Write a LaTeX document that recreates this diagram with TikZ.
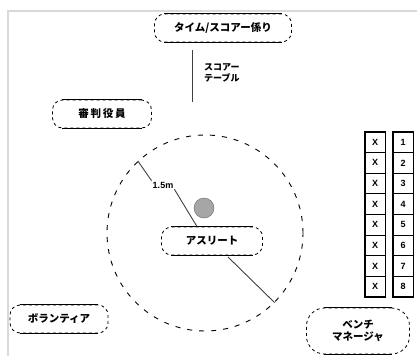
\documentclass[tikz,border=0pt]{standalone}
\usepackage{fontspec}
\newfontfamily\jp{Noto Sans CJK JP}
\setmainfont{Liberation Sans}
\begin{document}
\begin{tikzpicture}[x=1pt,y=-1pt,
  role/.style={draw,dashed,rounded corners=10pt,line width=0.8pt,minimum height=28pt,
    inner sep=0pt,font=\jp\bfseries\fontsize{10.5}{12}\selectfont,align=center},
  edge/.style={line width=1.1pt},
  conn/.style={line width=0.9pt,black!75},
  cell/.style={draw,line width=0.8pt,minimum width=20pt,minimum height=20.6pt,inner sep=0pt,
    font=\bfseries\fontsize{9}{10}\selectfont}]
\useasboundingbox (0,0) rectangle (417,356);
% frame
\draw[black!15,line width=1.2pt] (417,11) -- (8,11) -- (8,356);
% nodes
\node[role,minimum width=137pt] (ts) at (223,28) {タイム/スコアー係り};
\node[role,minimum width=99pt] (ref) at (102,114) {審\,判\,役\,員};
\node[role,minimum width=98pt] (vol) at (59,319) {ボランティア};
\node[role,minimum width=101pt] (ath) at (212,241) {アスリート};
\node[role,minimum width=103pt,minimum height=46pt,rounded corners=18pt] (bm) at (358,331) {ベンチ\\マネージャ};
\foreach \n/\r in {ts/10,ref/10,vol/10,ath/10,bm/18}{
  \draw[edge] ([xshift=\r pt]\n.north west) -- ([xshift=-\r pt]\n.north east);
  \draw[edge] ([xshift=\r pt]\n.south west) -- ([xshift=-\r pt]\n.south east);
}
% score table
\coordinate (stop) at (192,50);
\coordinate (sbot) at (192,102);
\draw[conn] (stop) -- (sbot);
\node[anchor=north west,align=left,inner sep=0pt,font=\jp\bfseries\fontsize{9}{11}\selectfont] (st) at (204,63) {スコアー\\テーブル};
% field circle
\node[draw,dashed,circle,minimum size=196pt,line width=0.9pt,dash pattern=on 5pt off 7pt] (field) at (205,233) {};
\node[circle,fill=black!35,draw=black!60,minimum size=20pt,inner sep=0pt] (ball) at (204,208) {};
\node[font=\bfseries\fontsize{9}{10}\selectfont,inner sep=1pt] (r) at (163,185) {1.5m};
\draw[conn] (field.133) -- (r.north west);
\draw[conn] (r.south east) -- (ath.north west -| 197,0);
\coordinate (a1) at (228,257);
\draw[conn] (a1) -- (field.-45);
% table
\foreach \i in {1,...,8}{
  \node[cell] (x\i) at (375,{132+20.6*(\i-0.5)}) {X};
  \node[cell] (n\i) at (403,{132+20.6*(\i-0.5)}) {\i};
}
\draw[line width=1pt] (x1.north west) rectangle (x8.south east);
\draw[line width=1pt] (n1.north west) rectangle (n8.south east);
\end{tikzpicture}
\end{document}
